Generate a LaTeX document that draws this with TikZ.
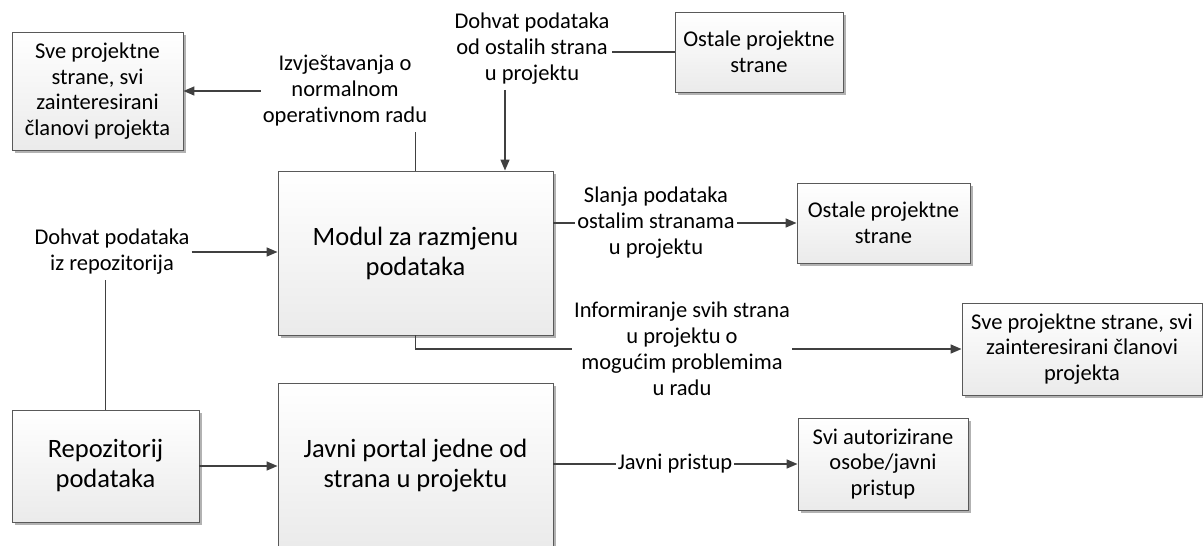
\documentclass[tikz,border=0pt]{standalone}
\usepackage{fontspec}
\setmainfont{Carlito}[Ligatures=NoCommon]
\usepackage{tikz}
\usetikzlibrary{arrows.meta,shadows}

\tikzset{
  box/.style={draw=black!65, line width=0.9pt, top color=white, bottom color=black!8,
    align=center, inner sep=2pt, font=\fontsize{22.5}{25.5}\selectfont,
    drop shadow={shadow xshift=2.5pt, shadow yshift=-2.5pt, fill=black!30, opacity=1}},
  bigbox/.style={box, font=\fontsize{26.5}{30}\selectfont},
  lbl/.style={align=center, inner xsep=2pt, inner ysep=5pt, font=\fontsize{22.5}{26}\selectfont},
  conn/.style={draw=black!75, line width=1.4pt},
  arr/.style={conn, -{Triangle[length=11pt,width=9pt]}}
}

\begin{document}
\begin{tikzpicture}[x=1pt, y=-1pt]
  \useasboundingbox (0,0) rectangle (1203,546);

  \node[box, minimum width=171pt, minimum height=118pt] (sveL) at (97.5,91) {Sve projektne\\strane, svi\\zainteresirani\\članovi projekta};
  \node[box, minimum width=168pt, minimum height=80pt] (ostaleT) at (759,52) {Ostale projektne\\strane};
  \node[bigbox, minimum width=275pt, minimum height=164pt] (modul) at (415.5,253) {Modul za razmjenu\\podataka};
  \node[box, minimum width=173pt, minimum height=80pt] (ostaleM) at (883.5,223) {Ostale projektne\\strane};
  \node[box, minimum width=240pt, minimum height=92pt] (sveR) at (1082,349) {Sve projektne strane, svi\\zainteresirani članovi\\projekta};
  \node[bigbox, minimum width=187pt, minimum height=112pt] (repo) at (105.5,466) {Repozitorij\\podataka};
  \node[bigbox, minimum width=275pt, minimum height=165pt] (javni) at (415.5,465.5) {Javni portal jedne od\\strana u projektu};
  \node[box, minimum width=170pt, minimum height=92pt] (svi) at (883,464) {Svi autorizirane\\osobe/javni\\pristup};

  \node[lbl] (izv) at (345,91) {Izvještavanja o\\normalnom\\operativnom radu};
  \node[lbl] (dohvT) at (532,49) {Dohvat podataka\\od ostalih strana\\u projektu};
  \node[lbl] (slanja) at (656,223) {Slanja podataka\\ostalim stranama\\u projektu};
  \node[lbl] (inform) at (682,349) {Informiranje svih strana\\u projektu o\\mogućim problemima\\u radu};
  \node[lbl] (dohvR) at (112,252) {Dohvat podataka\\iz repozitorija};
  \node[lbl] (javniP) at (675,464) {Javni pristup};

  \coordinate (inTop) at ([xshift=89.5pt]modul.north);

  \draw[conn] (modul.north) -- (modul.north |- izv.south);
  \draw[arr] (izv.west) -- (sveL.east);
  \draw[conn] (ostaleT.west) -- (ostaleT.west -| dohvT.east);
  \draw[arr] (inTop |- dohvT.south) -- (inTop);
  \draw[conn] (modul.east |- slanja.west) -- (slanja.west);
  \draw[arr] (slanja.east) -- (ostaleM.west);
  \draw[conn] (modul.south) |- (inform.west);
  \draw[arr] (inform.east) -- (sveR.west);
  \draw[conn] (repo.north) -- (repo.north |- dohvR.south);
  \draw[arr] (dohvR.east) -- (modul.west |- dohvR.east);
  \draw[arr] (repo.east) -- (repo.east -| javni.west);
  \draw[conn] (javni.east |- javniP.west) -- (javniP.west);
  \draw[arr] (javniP.east) -- (svi.west |- javniP.east);
\end{tikzpicture}
\end{document}
